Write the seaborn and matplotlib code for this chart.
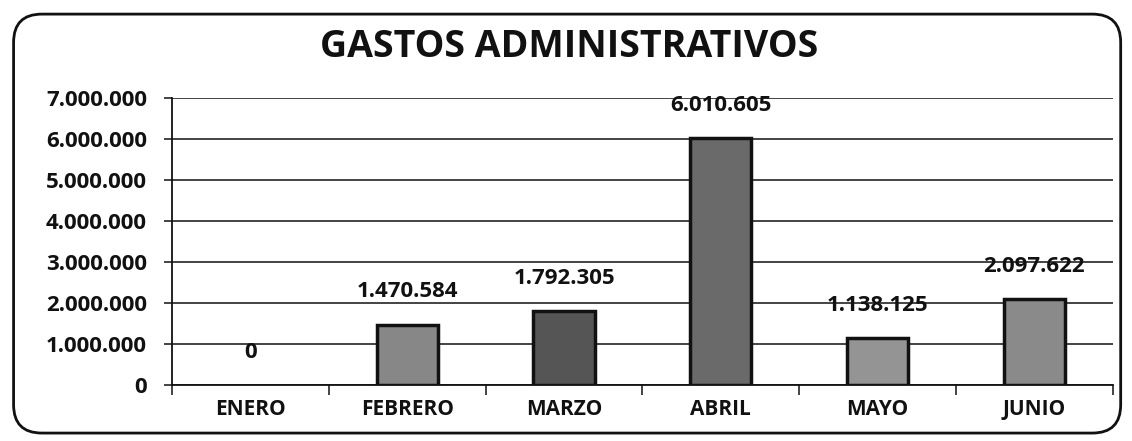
import matplotlib
matplotlib.use("Agg")
import matplotlib.pyplot as plt
import seaborn as sns
import pandas as pd
from matplotlib.patches import FancyBboxPatch
from matplotlib.ticker import FuncFormatter

meses = ["ENERO", "FEBRERO", "MARZO", "ABRIL", "MAYO", "JUNIO"]
gastos = [0, 1470584, 1792305, 6010605, 1138125, 2097622]
colores = ["#8a8a8a", "#878787", "#555555", "#6a6a6a", "#949494", "#8a8a8a"]
titulo = "GASTOS ADMINISTRATIVOS"

sns.set_style("white")
plt.rcParams['font.family'] = ['Open Sans', 'DejaVu Sans']

df = pd.DataFrame({"mes": meses, "gasto": gastos})

fig = plt.figure(figsize=(11.32, 4.41), dpi=100)
ax = fig.add_axes([0.152, 0.127, 0.831, 0.651])

sns.barplot(data=df, x="mes", y="gasto", hue="mes", palette=colores,
            legend=False, width=0.39, edgecolor="#111111", linewidth=2.5,
            ax=ax, zorder=3)
# hide outline of zero-height bars
for p in ax.patches:
    if p.get_height() == 0:
        p.set_linewidth(0)

def fmt(v):
    return f"{int(round(v)):,}".replace(",", ".")

ax.set_ylim(0, 7000000)
ax.set_yticks(range(0, 7000001, 1000000))
ax.yaxis.set_major_formatter(FuncFormatter(lambda v, p: fmt(v)))
ax.grid(axis="y", color="#111111", linewidth=1.1, zorder=0)
ax.set_axisbelow(True)
ax.set_xlabel("")
ax.set_ylabel("")

for s in ["top", "right"]:
    ax.spines[s].set_visible(False)
ax.spines["left"].set_color("#111111")
ax.spines["left"].set_linewidth(1.3)
ax.spines["bottom"].set_color("#111111")
ax.spines["bottom"].set_linewidth(1.3)

ax.tick_params(axis="y", length=6, width=1.1, color="#111111", labelsize=16, pad=12, direction="out", left=True)
ax.tick_params(axis="x", length=0, labelsize=15, pad=10)
for lab in ax.get_yticklabels() + ax.get_xticklabels():
    lab.set_fontweight("bold")
    lab.set_color("#111111")

# category separator ticks
ax.set_xticks([i + 0.5 for i in range(-1, len(meses))], minor=True)
ax.tick_params(axis="x", which="minor", length=7, width=1.1, color="#111111", direction="out", bottom=True)
ax.set_xlim(-0.5, len(meses) - 0.5)

for i, v in enumerate(gastos):
    ax.annotate(fmt(v), (i, v), xytext=(0, 16), textcoords="offset points",
                ha="center", va="bottom", fontsize=16, fontweight="bold", color="#111111")

fig.text(0.503, 0.893, titulo, ha="center", va="center", fontsize=27, fontweight="bold", color="#111111")

box = FancyBboxPatch((0.012, 0.018), 0.978, 0.95, boxstyle="round,pad=0,rounding_size=0.025",
                     transform=fig.transFigure, fill=False, edgecolor="#111111", linewidth=2,
                     mutation_aspect=1132/441)
fig.patches.append(box)

fig.savefig("out.png", dpi=100)
